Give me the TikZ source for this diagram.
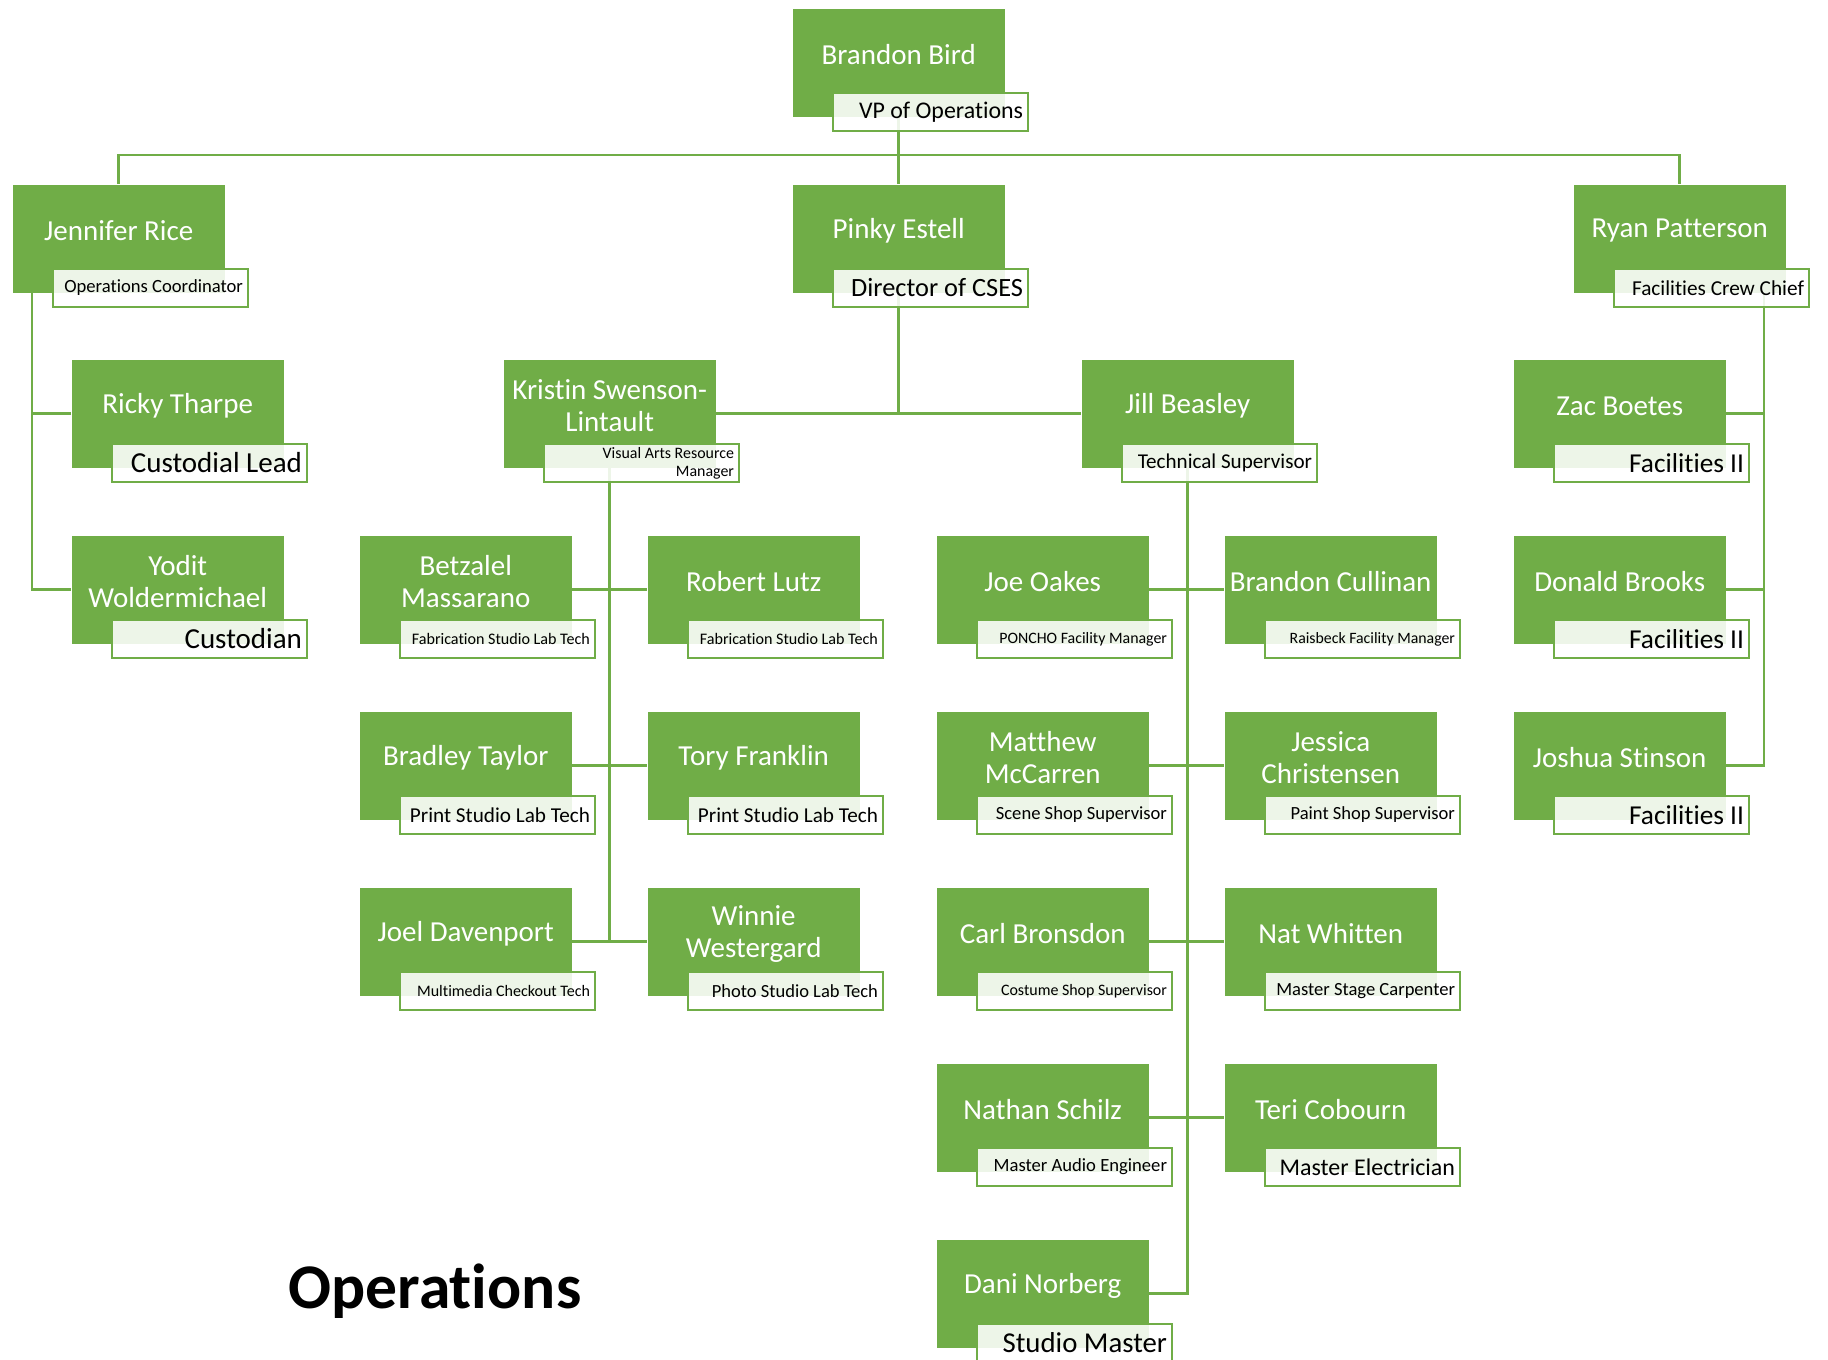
\documentclass[tikz,border=0pt]{standalone}
\usepackage{fontspec}
\setmainfont{Carlito}[Ligatures=NoCommon]
\usepackage{tikz}
\usetikzlibrary{calc,backgrounds,positioning}
\definecolor{orggreen}{HTML}{70AD47}
\tikzstyle{staffbox}=[rectangle, fill=orggreen, anchor=north west, inner sep=0pt, minimum width=2.12cm, minimum height=1.08cm]
\tikzstyle{namelabel}=[text=white, align=center, inner sep=0pt, font=\fontsize{8.25}{9.1}\selectfont]
\tikzstyle{titlebox}=[rectangle, draw=orggreen, line width=.8pt, fill=white, fill opacity=.88, text opacity=1, minimum height=.38cm, text width=1.85cm, inner xsep=.05cm, inner ysep=0pt, align=flush right]
\tikzstyle{orgline}=[draw=orggreen, line width=.8pt]

% one person: node name, left, top, name, job, size of job text
\newcommand{\staff}[6]{%
	\node[staffbox] (#1) at (#2,-#3) {};
	\node[namelabel] (#1n) at ($(#1.north)+(0,-.47)$) {#4};
	\node[titlebox, font=\fontsize{#6}{#6}\selectfont] (#1t) at ($(#1.north west)+(1.385,-1.04)$) {#5};
}

\begin{document}
\begin{tikzpicture}
	\useasboundingbox (0,0) rectangle (18.28,-13.59);
	% top
	\staff{bird}{7.92}{.08}{Brandon Bird}{VP of Operations}{6.8}
	\staff{rice}{.12}{1.84}{Jennifer Rice}{Operations Coordinator}{5.3}
	\staff{estell}{7.92}{1.84}{Pinky Estell}{Director of CSES}{7.5}
	\staff{patterson}{15.73}{1.84}{Ryan Patterson}{Facilities Crew Chief}{6.05}
	% custodial
	\staff{tharpe}{.71}{3.59}{Ricky Tharpe}{Custodial Lead}{8.25}
	\staff{yodit}{.71}{5.35}{Yodit\\Woldermichael}{Custodian}{8.25}
	% CSES
	\staff{swenson}{5.03}{3.59}{Kristin Swenson-\\Lintault}{Visual Arts Resource\\[.6pt]Manager}{4.53}
	\staff{beasley}{10.81}{3.59}{Jill Beasley}{Technical Supervisor}{6.0}
	\staff{massarano}{3.59}{5.35}{Betzalel\\Massarano}{Fabrication Studio Lab Tech}{4.58}
	\staff{lutz}{6.47}{5.35}{Robert Lutz}{Fabrication Studio Lab Tech}{4.58}
	\staff{taylor}{3.59}{7.11}{Bradley Taylor}{Print Studio Lab Tech}{6.03}
	\staff{franklin}{6.47}{7.11}{Tory Franklin}{Print Studio Lab Tech}{6.03}
	\staff{davenport}{3.59}{8.87}{Joel Davenport}{Multimedia Checkout Tech}{4.56}
	\staff{westergard}{6.47}{8.87}{Winnie\\Westergard}{Photo Studio Lab Tech}{5.27}
	\staff{oakes}{9.36}{5.35}{Joe Oakes}{PONCHO Facility Manager}{4.52}
	\staff{cullinan}{12.24}{5.35}{Brandon Cullinan}{Raisbeck Facility Manager}{4.5}
	\staff{mccarren}{9.36}{7.11}{Matthew\\McCarren}{Scene Shop Supervisor}{5.29}
	\staff{christensen}{12.24}{7.11}{Jessica\\Christensen}{Paint Shop Supervisor}{5.28}
	\staff{bronsdon}{9.36}{8.87}{Carl Bronsdon}{Costume Shop Supervisor}{4.54}
	\staff{whitten}{12.24}{8.87}{Nat Whitten}{Master Stage Carpenter}{5.28}
	\staff{schilz}{9.36}{10.63}{Nathan Schilz}{Master Audio Engineer}{5.3}
	\staff{cobourn}{12.24}{10.63}{Teri Cobourn}{Master Electrician}{6.82}
	\staff{norberg}{9.36}{12.39}{Dani Norberg}{Studio Master}{8.19}
	% facilities
	\staff{boetes}{15.13}{3.59}{Zac Boetes}{Facilities II}{7.77}
	\staff{brooks}{15.13}{5.35}{Donald Brooks}{Facilities II}{7.77}
	\staff{stinson}{15.13}{7.11}{Joshua Stinson}{Facilities II}{7.77}

	\node[anchor=base, font=\bfseries\fontsize{18.1}{20}\selectfont] (heading) at (4.35,-13.08) {Operations};

	\begin{scope}[on background layer]
		\coordinate (bus) at (0,-1.55);
		\draw[orgline] (bird.south) -- (bird.south |- bus);
		\draw[orgline] (rice.north) -- (rice.north |- bus) -- (patterson.north |- bus) -- (patterson.north);
		\draw[orgline] (estell.north) -- (estell.north |- bus);
		% Jennifer Rice
		\coordinate (ricespine) at ($(rice.south west)+(.2,0)$);
		\draw[orgline] (ricespine) |- (yodit.west);
		\draw[orgline] (tharpe.west) -- (tharpe.west -| ricespine);
		% Pinky Estell
		\draw[orgline] (estell.south) -- (estell.south |- swenson.east);
		\draw[orgline] (swenson.east) -- (beasley.west);
		% Kristin
		\draw[orgline] (swenson.south) -- (swenson.south |- davenport.east);
		\foreach \a/\b in {massarano/lutz, taylor/franklin, davenport/westergard}
			\draw[orgline] (\a.east) -- (\b.west);
		% Jill
		\draw[orgline] (beasley.south) |- (norberg.east);
		\foreach \a/\b in {oakes/cullinan, mccarren/christensen, bronsdon/whitten, schilz/cobourn}
			\draw[orgline] (\a.east) -- (\b.west);
		% Ryan
		\coordinate (patspine) at ($(patterson.south west)+(1.91,0)$);
		\draw[orgline] (patspine) |- (stinson.east);
		\foreach \a in {boetes, brooks}
			\draw[orgline] (\a.east) -- (\a.east -| patspine);
	\end{scope}
\end{tikzpicture}
\end{document}
